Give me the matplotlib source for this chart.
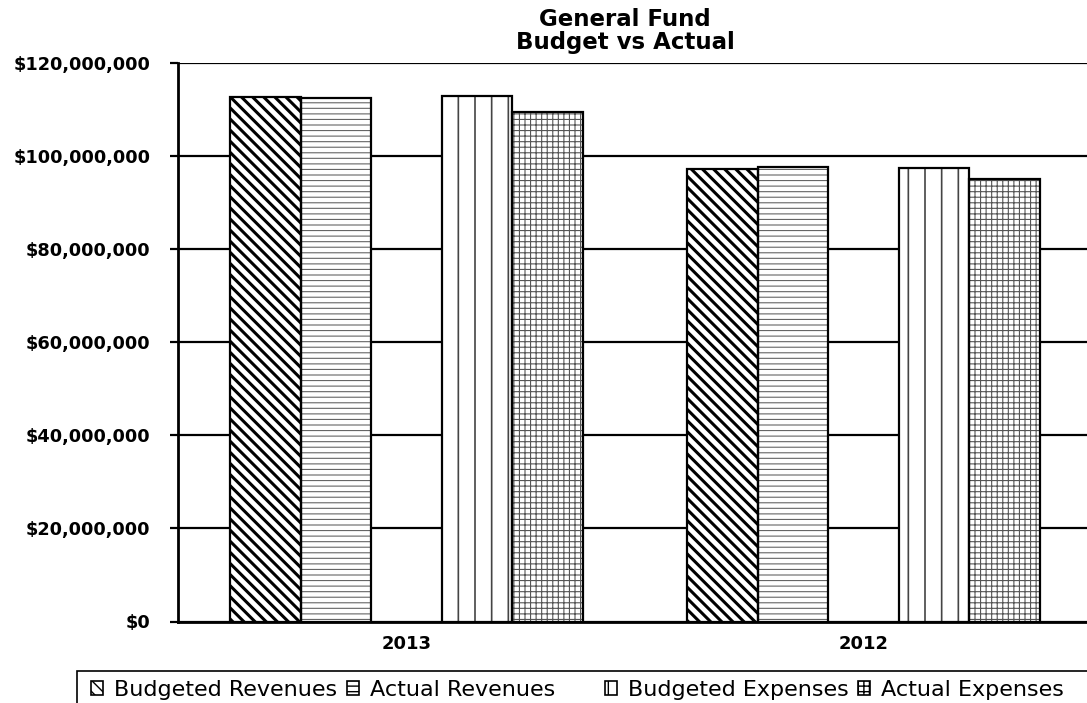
import matplotlib as mpl

mpl.use("Agg")
import matplotlib.pyplot as plt
from matplotlib.patches import Patch, Rectangle
from matplotlib.ticker import FuncFormatter
import numpy as np

mpl.rcParams.update(
    {
        "font.family": ["DejaVu Sans"],
        "hatch.linewidth": 1.0,
    }
)

YEARS = ["2013", "2012"]
SERIES = ["Budgeted Revenues", "Actual Revenues", "Budgeted Expenses", "Actual Expenses"]
BUDGETED_REVENUES = [112.8e6, 97.2e6]
ACTUAL_REVENUES = [112.5e6, 97.7e6]
BUDGETED_EXPENSES = [113.0e6, 97.4e6]
ACTUAL_EXPENSES = [109.4e6, 95.1e6]
Y_TICKS = [0, 20e6, 40e6, 60e6, 80e6, 100e6, 120e6]

# hatch pattern, hatch colour, hatch line width per series
STYLES = [
    ("\\\\\\", "black", 2.2),
    ("---", "#666666", 0.8),
    ("|", "#444444", 1.2),
    ("+++", "#555555", 0.8),
]

W, H = 1087, 703
fig = plt.figure(figsize=(W / 100, H / 100), dpi=100)
fig.patch.set_facecolor("white")
ax = fig.add_axes([178 / W, 1 - 621.5 / H, 914 / W, (621.5 - 63) / H])

values = [BUDGETED_REVENUES, ACTUAL_REVENUES, BUDGETED_EXPENSES, ACTUAL_EXPENSES]
x = np.arange(len(YEARS))
bar_w = 0.1545
# five slots per year, the middle one is left empty
slots = [-2, -1, 1, 2]

for vals, slot, (hatch, hcol, hlw) in zip(values, slots, STYLES):
    pos = x + slot * bar_w
    bars = ax.bar(pos, vals, bar_w, color="white", edgecolor=hcol, hatch=hatch,
                  linewidth=0, zorder=2)
    for b in bars:
        if hasattr(b, "set_hatch_linewidth"):
            b.set_hatch_linewidth(hlw)
    ax.bar(pos, vals, bar_w, color="none", edgecolor="black", linewidth=1.6, zorder=3)

ax.set_xlim(-0.5, 1.5)
ax.set_ylim(0, 120e6)
ax.set_yticks(Y_TICKS)
ax.yaxis.set_major_formatter(FuncFormatter(lambda v, p: f"${v:,.0f}"))
ax.set_xticks(x)
ax.set_xticklabels(YEARS)

ax.set_axisbelow(True)
ax.grid(axis="y", color="black", linewidth=1.6)
ax.grid(axis="x", visible=False)
for side in ["top", "right"]:
    ax.spines[side].set_visible(False)
ax.spines["left"].set_linewidth(2.0)
ax.spines["bottom"].set_linewidth(2.0)

ax.tick_params(axis="y", length=6, width=1.6, pad=14, labelsize=12.8)
ax.tick_params(axis="x", length=0, pad=10, labelsize=13)
for lbl in ax.get_yticklabels() + ax.get_xticklabels():
    lbl.set_fontweight("bold")

fig.text(625 / W, 1 - 19 / H, "General Fund", ha="center", va="center",
         fontsize=16.5, fontweight="bold")
fig.text(625 / W, 1 - 42 / H, "Budget vs Actual", ha="center", va="center",
         fontsize=16.5, fontweight="bold")

# legend: box running off the right and bottom edges
fig.patches.append(Rectangle((77 / W, -0.1), 1.1, 1 - 671 / H + 0.1,
                             transform=fig.transFigure, facecolor="white",
                             edgecolor="black", linewidth=1.2, clip_on=False))
handles = []
labels = []
for i, (name, (hatch, hcol, hlw)) in enumerate(zip(SERIES, STYLES)):
    handles.append(Patch(facecolor="white", edgecolor="black", hatch=hatch, linewidth=1.2))
    labels.append(name)
    if i == 1:
        handles.append(Patch(facecolor="none", edgecolor="none"))
        labels.append(" ")
leg = fig.legend(handles, labels, loc="center left", ncol=5,
                 bbox_to_anchor=(91 / W, 1 - 690 / H), frameon=False,
                 fontsize=16, handlelength=0.55, handleheight=0.55,
                 handletextpad=0.5, columnspacing=0.42, borderpad=0,
                 borderaxespad=0)

fig.savefig("out.png", dpi=100)
